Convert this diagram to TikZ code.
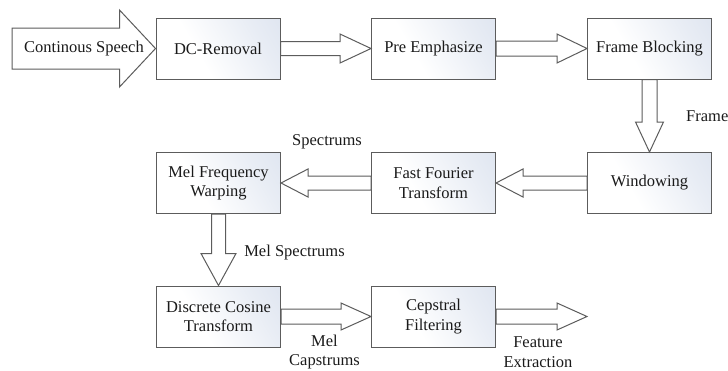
\documentclass[tikz,border=0pt]{standalone}
\usepackage{fontspec}
\setmainfont{LiberationSerif-Regular.ttf}
\newfontfamily\labelface{LiberationSerif-Regular.ttf}
\usetikzlibrary{calc}

\definecolor{edgegray}{HTML}{5C5C5C}
\definecolor{boxtint}{HTML}{D6DEEC}
\definecolor{inktext}{HTML}{1A1A1A}

% soft fade used inside the stage boxes
\pgfdeclarehorizontalshading{boxfade}{100bp}{color(0bp)=(boxtint); color(30bp)=(boxtint!55!white);
  color(60bp)=(white); color(100bp)=(white)}

\tikzset{
  stage/.style={draw=edgegray, line width=1pt, shading=boxfade, shading angle=210,
    minimum width=124pt, minimum height=61pt, inner sep=0pt,
    align=center, text=inktext, font=\labelface\fontsize{16.5}{19.5}\selectfont},
  arrowbody/.style={draw=edgegray, fill=white, line width=1pt, line join=miter},
  tag/.style={inner sep=0pt, align=center, text=inktext,
    font=\labelface\fontsize{16.5}{19.5}\selectfont}
}

% hollow block arrow: tail, tip, shaft half-width, head half-width, head length
\newcommand\flowarrow[5]{%
  \coordinate (hb) at ($(#2)!#5!(#1)$);
  \filldraw[arrowbody] ($(#1)!#3!90:(#2)$) -- ($(hb)!#3!90:(#2)$) -- ($(hb)!#4!90:(#2)$)
    -- (#2) -- ($(hb)!#4!-90:(#2)$) -- ($(hb)!#3!-90:(#2)$) -- ($(#1)!#3!-90:(#2)$) -- cycle;}

\begin{document}
\begin{tikzpicture}[x=1pt,y=-1pt]
\useasboundingbox (0,0) rectangle (728,370);

% processing stages
\node[stage] (dc)  at (218,48.5)    {DC-Removal};
\node[stage] (pe)  at (433.5,48.5)  {Pre Emphasize};
\node[stage] (fb)  at (649.5,48.5)  {Frame Blocking};
\node[stage] (win) at (649.5,183)   {Windowing};
\node[stage] (fft) at (433.5,183)   {Fast Fourier\\Transform};
\node[stage] (mfw) at (218.5,183)   {Mel Frequency\\Warping};
\node[stage] (dct) at (218.5,316.5) {Discrete Cosine\\Transform};
\node[stage] (cf)  at (433.5,316.5) {Cepstral\\Filtering};

% free ends of the input and output arrows
\coordinate (src)  at (12,48.5);
\coordinate (sink) at (587,316.5);

% block arrows between the stages
\flowarrow{src}{dc.west}{20.5pt}{38.5pt}{36pt}
\flowarrow{dc.east}{pe.west}{7pt}{14.5pt}{31pt}
\flowarrow{pe.east}{fb.west}{7.5pt}{14.5pt}{30pt}
\flowarrow{fb.south}{win.north}{7.5pt}{14pt}{30pt}
\flowarrow{win.west}{fft.east}{7pt}{14pt}{27pt}
\flowarrow{fft.west}{mfw.east}{7pt}{14pt}{27pt}
\flowarrow{mfw.south}{dct.north}{7pt}{17.5pt}{32pt}
\flowarrow{dct.east}{cf.west}{7.5pt}{13.5pt}{30pt}
\flowarrow{cf.east}{sink}{7.5pt}{13.5pt}{30pt}

% labels
\node[tag] (speech) at (84,49) {Continous Speech};
\node[tag, anchor=west] (frames) at (686,116) {Frame};
\node[tag] (spec) at (327,142) {Spectrums};
\node[tag] (melspec) at (294.5,253) {Mel Spectrums};
\node[tag] (melcep) at (324.5,352) {Mel\\Capstrums};
\node[tag] (feat) at (538,352) {Feature\\Extraction};
\end{tikzpicture}
\end{document}
